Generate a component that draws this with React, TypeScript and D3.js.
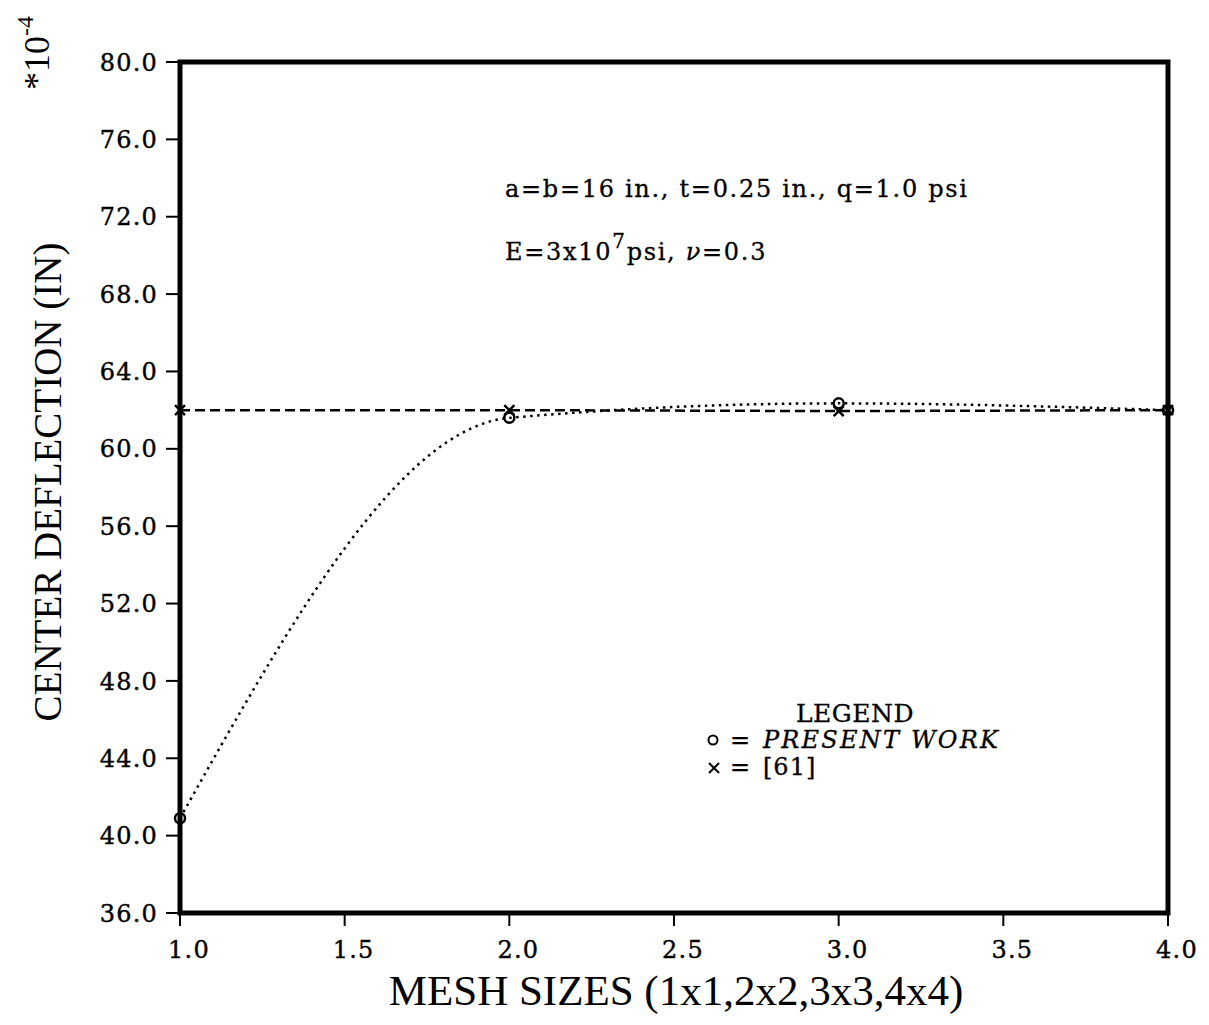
import React from "react";
import * as d3 from "d3";

const meshSizes = [1.0, 2.0, 3.0, 4.0];
const presentWork = [40.9, 61.6, 62.35, 62.0];
const reference61 = [62.0, 62.0, 61.95, 62.0];
const yTicks = [36, 40, 44, 48, 52, 56, 60, 64, 68, 72, 76, 80];
const xTicks = [1.0, 1.5, 2.0, 2.5, 3.0, 3.5, 4.0];

const W = 1209;
const H = 1025;
const margin = { left: 180, top: 62, right: 41, bottom: 112 };

const tickFont = "'DejaVu Serif', serif";
const titleFont = "'Liberation Serif', 'Times New Roman', serif";

export default function App() {
  const x = d3.scaleLinear().domain([1, 4]).range([margin.left, W - margin.right]);
  const y = d3.scaleLinear().domain([36, 80]).range([H - margin.bottom, margin.top]);

  // smooth curve through the computed points
  const smooth = d3
    .line<number>()
    .x((_, i) => x(meshSizes[i]))
    .y((d) => y(d))
    .curve(d3.curveMonotoneX);

  const straight = d3
    .line<number>()
    .x((_, i) => x(meshSizes[i]))
    .y((d) => y(d));

  const x0 = x(1), x1 = x(4), y0 = y(36), y1 = y(80);

  return (
    <svg width={W} height={H} style={{ position: "absolute", left: 0, top: 0, background: "#fff" }}>
      {/* curves */}
      <path d={smooth(presentWork) || ""} fill="none" stroke="#000" strokeWidth={2.5} strokeDasharray="2.5 4.5" />
      <path d={straight(reference61) || ""} fill="none" stroke="#000" strokeWidth={2.5} strokeDasharray="10 5" />

      {presentWork.map((v, i) => (
        <circle key={"c" + i} cx={x(meshSizes[i])} cy={y(v)} r={5} fill="none" stroke="#000" strokeWidth={2.5} />
      ))}
      {reference61.map((v, i) => {
        const cx = x(meshSizes[i]), cy = y(v), s = 5;
        return (
          <path key={"x" + i} d={`M${cx - s},${cy - s}L${cx + s},${cy + s}M${cx - s},${cy + s}L${cx + s},${cy - s}`} stroke="#000" strokeWidth={2.5} />
        );
      })}

      {/* frame */}
      <rect x={x0} y={y1} width={x1 - x0} height={y0 - y1} fill="none" stroke="#000" strokeWidth={5} />

      {/* y ticks */}
      {yTicks.map((t) => (
        <g key={"yt" + t}>
          <line x1={x0 - 14} x2={x0} y1={y(t)} y2={y(t)} stroke="#000" strokeWidth={2} />
          <text x={x0 - 22} y={y(t)} dy="0.36em" textAnchor="end" fontFamily={tickFont} fontSize={24}
            letterSpacing={1.2} stroke="#000" strokeWidth={0.4} fill="#000">
            {t.toFixed(1)}
          </text>
        </g>
      ))}

      {/* x ticks */}
      {xTicks.map((t) => (
        <g key={"xt" + t}>
          <line x1={x(t)} x2={x(t)} y1={y0} y2={y0 + 13} stroke="#000" strokeWidth={2} />
          <text x={x(t) + 9} y={958} textAnchor="middle" fontFamily={tickFont} fontSize={24}
            letterSpacing={1.2} stroke="#000" strokeWidth={0.4} fill="#000">
            {t.toFixed(1)}
          </text>
        </g>
      ))}

      {/* axis titles */}
      <text x={676} y={1005} textAnchor="middle" fontFamily={titleFont} fontSize={43} fill="#000">
        MESH SIZES (1x1,2x2,3x3,4x4)
      </text>
      <text
        transform={`translate(61, 482) rotate(-90)`}
        textAnchor="middle"
        fontFamily={titleFont}
        fontSize={39}
        fill="#000"
      >
        CENTER DEFLECTION (IN)
      </text>
      <text transform="translate(49, 90) rotate(-90)" fontFamily={titleFont} fontSize={36} fill="#000">
        *10
        <tspan dy={-16} fontSize={24}>-4</tspan>
      </text>

      {/* annotations */}
      <g fontFamily={tickFont} fontSize={24} letterSpacing={1.7} fill="#000" stroke="#000" strokeWidth={0.3}>
        <text x={505} y={197}>
          a=b=16 in., t=0.25 in., q=1.0 psi
        </text>
        <text x={505} y={260}>
          E=3x10<tspan dy={-12} fontSize={20}>7</tspan>
          <tspan dy={12}>psi, </tspan>
          <tspan fontStyle="italic">ν</tspan>=0.3
        </text>
      </g>

      {/* legend */}
      <g fontFamily={tickFont} fill="#000" stroke="#000" strokeWidth={0.3}>
        <text x={855} y={722} textAnchor="middle" fontSize={25} letterSpacing={0.5}>
          LEGEND
        </text>
        <text x={730} y={748} fontSize={24}>=</text>
        <text x={763} y={748} fontSize={24} fontStyle="italic" letterSpacing={2.2}>
          PRESENT WORK
        </text>
        <text x={730} y={775} fontSize={24}>=</text>
        <text x={763} y={775} fontSize={24} letterSpacing={1}>[61]</text>
      </g>
      <circle cx={713} cy={740} r={4.5} fill="none" stroke="#000" strokeWidth={2} />
      <path d="M709,763L719,773M709,773L719,763" stroke="#000" strokeWidth={2} />
    </svg>
  );
}
